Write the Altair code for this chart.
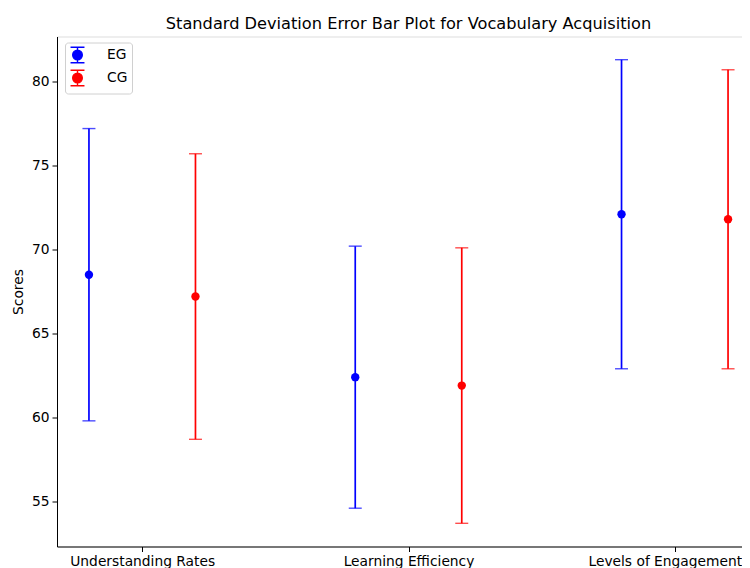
import altair as alt
import pandas as pd

categories = ["Understanding Rates", "Learning Efficiency", "Levels of Engagement"]
groups = ["EG", "CG"]
eg_mean = [68.5, 62.4, 72.1]
eg_sd = [8.7, 7.8, 9.2]
cg_mean = [67.2, 61.9, 71.8]
cg_sd = [8.5, 8.2, 8.9]

offsets = {"EG": -0.2, "CG": 0.2}
rows = []
for g, means, sds in [("EG", eg_mean, eg_sd), ("CG", cg_mean, cg_sd)]:
    for i, (c, m, s) in enumerate(zip(categories, means, sds)):
        rows.append({"category": c, "group": g, "pos": i + offsets[g],
                     "mean": m, "lo": m - s, "hi": m + s})
df = pd.DataFrame(rows)

FONT = "DejaVu Sans"
FS = 13.8

xscale = alt.Scale(domain=[-0.32, 2.32], nice=False, zero=False)
yscale = alt.Scale(domain=[52.32, 82.68], nice=False, zero=False)
color = alt.Color("group:N", scale=alt.Scale(domain=groups, range=["#0000ff", "#ff0000"]),
                  legend=alt.Legend(
                      title=None, orient="none", legendX=8, legendY=6,
                      symbolType="M-0.9,-1H0.9M0,-1V1M-0.9,1H0.9M0.62,0A0.62,0.62 0 1,1 -0.62,0A0.62,0.62 0 1,1 0.62,0Z",
                      symbolSize=240, symbolStrokeWidth=1.4, symbolOpacity=1,
                      labelFontSize=FS, labelFont=FONT, labelColor="#000", rowPadding=0,
                      labelOffset=21, padding=4, strokeColor="#d0d0d0", fillColor="white",
                      cornerRadius=3))

label_expr = ("datum.value == 0 ? 'Understanding Rates' : datum.value == 1 ? "
              "'Learning Efficiency' : datum.value == 2 ? 'Levels of Engagement' : ''")

x = alt.X("pos:Q", scale=xscale,
          axis=alt.Axis(title=None, values=[0, 1, 2], labelExpr=label_expr, grid=False,
                        labelFontSize=FS, labelFont=FONT, labelColor="#000",
                        labelOffset={"condition": {"test": "datum.value == 2", "value": -10},
                                     "value": 0},
                        tickColor="#000", domainColor="#000", tickSize=5, labelPadding=3))

base = alt.Chart(df)
rules = base.mark_rule(strokeWidth=1.7).encode(
    x=x,
    y=alt.Y("lo:Q", scale=yscale, title="Scores",
            axis=alt.Axis(values=[55, 60, 65, 70, 75, 80], grid=False, labelFontSize=FS,
                          labelFont=FONT, labelColor="#000", tickColor="#000",
                          domainColor="#000", tickSize=5, titleFontSize=FS,
                          titleFont=FONT, titleFontWeight="normal", titleColor="#000",
                          labelPadding=3, titlePadding=6)),
    y2="hi:Q",
    color=color,
)
cap_lo = base.mark_tick(orient="horizontal", size=13, thickness=1.4).encode(
    x="pos:Q", y="lo:Q", color=color)
cap_hi = base.mark_tick(orient="horizontal", size=13, thickness=1.4).encode(
    x="pos:Q", y="hi:Q", color=color)
points = base.mark_point(filled=True, shape="circle", size=70, opacity=1).encode(
    x="pos:Q", y="mean:Q", color=color)

chart = alt.layer(rules, cap_lo, cap_hi, points).properties(
    width=703, height=510,
    title=alt.TitleParams("Standard Deviation Error Bar Plot for Vocabulary Acquisition",
                          fontSize=16.2, font=FONT, fontWeight="normal", color="#000",
                          anchor="middle", offset=4),
    autosize=alt.AutoSizeParams(type="none"),
    padding={"left": 49, "top": 28.5, "right": -18, "bottom": 21},
).configure_view(stroke="#000", strokeWidth=1).configure(background="white")

chart.save("out.html", embed_options={"renderer": "svg", "actions": False})
